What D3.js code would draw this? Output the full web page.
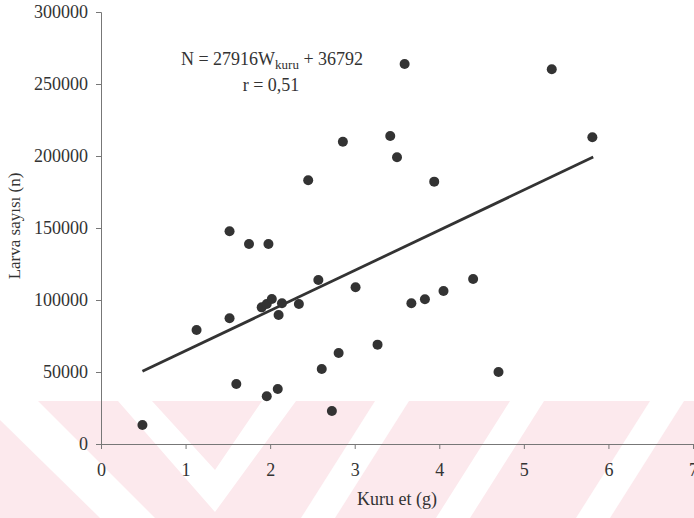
<!DOCTYPE html>
<html>
<head>
<meta charset="utf-8">
<script src="https://cdn.jsdelivr.net/npm/d3@7"></script>
<style>
  html, body { margin: 0; padding: 0; background: #fff; }
  svg { display: block; }
  svg text { font-family: "Liberation Serif", "Times New Roman", Times, "DejaVu Serif", serif !important; fill: #333; }
</style>
</head>
<body>
<svg id="chart" width="694" height="518"></svg>
<script>
// Dry mass (g) of each sample and the larva count found in it
const dryMass = [0.49, 1.13, 1.52, 1.52, 1.60, 1.75, 1.98, 1.96, 1.90, 1.96, 2.02, 2.14,
                 2.10, 2.09, 2.34, 2.45, 2.57, 2.61, 2.73, 2.81, 2.86, 3.01, 3.27, 3.42,
                 3.50, 3.59, 3.67, 3.83, 3.94, 4.05, 4.40, 4.70, 5.33, 5.81];
const larvaCount = [13200, 79200, 147700, 87300, 41700, 138900, 138900, 33100, 94900, 97200, 100700, 97700,
                    89600, 38200, 97200, 183100, 113900, 52100, 22900, 63200, 209900, 108800, 69000, 213900,
                    199100, 263900, 97700, 100500, 182200, 106300, 114600, 50000, 260200, 213000];

// Fitted regression N = 27916 W + 36792, drawn over the range of the data
const fitSlope = 27916;
const fitIntercept = 36792;
const fitRange = [0.49, 5.82];

const xTicks = [0, 1, 2, 3, 4, 5, 6, 7];
const yTicks = [0, 50000, 100000, 150000, 200000, 250000, 300000];

const svg = d3.select("#chart");

// faint diagonal band pattern along the bottom
const band = svg.append("g");
band.append("rect").attr("x", 0).attr("y", 401).attr("width", 694).attr("height", 117).attr("fill", "#fce9ed");
const whiteStripes = [
  [[0, 401], [38, 401], [155, 518], [100, 518], [0, 420]],
  [[118, 401], [152, 401], [215, 470], [262, 401], [296, 401], [215, 512]],
  [[375, 401], [409, 401], [335, 518], [301, 518]],
  [[510, 401], [544, 401], [470, 518], [436, 518]],
  [[650, 401], [684, 401], [610, 518], [576, 518]]
];
band.selectAll("polygon.stripe").data(whiteStripes).join("polygon")
  .attr("class", "stripe")
  .attr("points", d => d.map(p => p.join(",")).join(" "))
  .attr("fill", "#ffffff");

const x = d3.scaleLinear().domain([0, 7]).range([101, 693]);
const y = d3.scaleLinear().domain([0, 300000]).range([444, 12]);

// axes
const xAxis = svg.append("g").attr("transform", "translate(0,444)")
  .call(d3.axisBottom(x).tickValues(xTicks).tickFormat(d3.format("d")).tickSize(5).tickPadding(14));
const yAxis = svg.append("g").attr("transform", "translate(101,0)")
  .call(d3.axisLeft(y).tickValues(yTicks).tickFormat(d3.format("d")).tickSize(5).tickPadding(8));

[xAxis, yAxis].forEach(a => {
  a.attr("font-family", null).attr("font-size", null);
  a.selectAll("path.domain").attr("stroke", "#777").attr("stroke-width", 1);
  a.selectAll(".tick line").attr("stroke", "#777");
  a.selectAll(".tick text").style("font-size", "18px").attr("fill", "#333");
});

// axis titles
svg.append("text").attr("x", 397).attr("y", 505).attr("text-anchor", "middle")
  .style("font-size", "18px").text("Kuru et (g)");
svg.append("text").attr("transform", "translate(20,226) rotate(-90)").attr("text-anchor", "middle")
  .style("font-size", "17px").text("Larva sayısı (n)");

// regression line
const fit = d3.line().x(d => x(d)).y(d => y(fitSlope * d + fitIntercept));
svg.append("path").datum(fitRange).attr("d", fit)
  .attr("fill", "none").attr("stroke", "#333").attr("stroke-width", 2.8);

// observations
svg.append("g").selectAll("circle").data(dryMass.map((w, i) => [w, larvaCount[i]])).join("circle")
  .attr("cx", d => x(d[0])).attr("cy", d => y(d[1])).attr("r", 5).attr("fill", "#333");

// equation annotation
const eq = svg.append("text").attr("x", 272).attr("y", 65).attr("text-anchor", "middle").style("font-size", "18px");
eq.append("tspan").text("N = 27916W");
eq.append("tspan").attr("dy", 4).style("font-size", "13px").text("kuru");
eq.append("tspan").attr("dy", -4).text(" + 36792");
svg.append("text").attr("x", 271).attr("y", 91).attr("text-anchor", "middle")
  .style("font-size", "18px").text("r = 0,51");
</script>
</body>
</html>
